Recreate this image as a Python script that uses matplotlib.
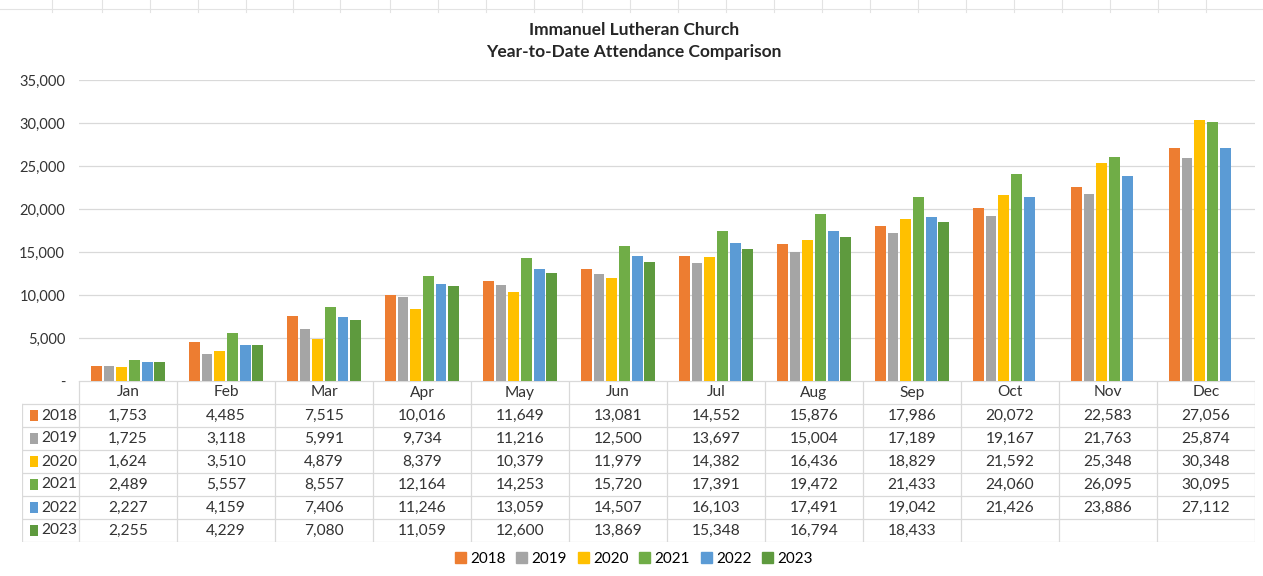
import numpy as np
import matplotlib.pyplot as plt
from matplotlib.patches import Patch, Rectangle

plt.rcParams['font.family'] = ['Lato', 'DejaVu Sans']

# data
months = ['Jan', 'Feb', 'Mar', 'Apr', 'May', 'Jun', 'Jul', 'Aug', 'Sep', 'Oct', 'Nov', 'Dec']
years = ['2018', '2019', '2020', '2021', '2022', '2023']
att_2018 = [1753, 4485, 7515, 10016, 11649, 13081, 14552, 15876, 17986, 20072, 22583, 27056]
att_2019 = [1725, 3118, 5991, 9734, 11216, 12500, 13697, 15004, 17189, 19167, 21763, 25874]
att_2020 = [1624, 3510, 4879, 8379, 10379, 11979, 14382, 16436, 18829, 21592, 25348, 30348]
att_2021 = [2489, 5557, 8557, 12164, 14253, 15720, 17391, 19472, 21433, 24060, 26095, 30095]
att_2022 = [2227, 4159, 7406, 11246, 13059, 14507, 16103, 17491, 19042, 21426, 23886, 27112]
att_2023 = [2255, 4229, 7080, 11059, 12600, 13869, 15348, 16794, 18433, None, None, None]
series = [att_2018, att_2019, att_2020, att_2021, att_2022, att_2023]
colors = ['#ED7D31', '#A5A5A5', '#FFC000', '#70AD47', '#5B9BD5', '#5E9A3E']

W, H = 1263, 576
fig = plt.figure(figsize=(W / 100, H / 100), dpi=100)

# main bar chart
ax = fig.add_axes([79 / W, (H - 381) / H, 1176 / W, 301 / H])
x = np.arange(len(months))
step, bw = 0.13, 0.11
for i, (vals, c) in enumerate(zip(series, colors)):
    v = np.array([np.nan if a is None else a for a in vals], dtype=float)
    ax.bar(x + (i - 2.5) * step, v, width=bw, color=c, zorder=3)

ax.set_xlim(-0.5, 11.5)
ax.set_ylim(0, 35000)
ax.set_yticks(range(0, 35001, 5000))
ax.set_yticklabels(['-' if t == 0 else f'{t:,}' for t in range(0, 35001, 5000)])
ax.tick_params(axis='y', length=0, pad=10, labelsize=10.5, colors='#333333')
ax.set_xticks([])
ax.grid(axis='y', color='#D9D9D9', linewidth=0.9, zorder=0)
for s in ax.spines.values():
    s.set_visible(False)

# data table under the chart
tax = fig.add_axes([22 / W, (H - 542) / H, (1255 - 22) / W, 161 / H])
hdr = 57 / 98
tax.set_xlim(-0.5 - hdr, 11.5)
tax.set_ylim(7, 0)
tax.axis('off')
lc = '#D9D9D9'
left = -0.5 - hdr
tax.plot([-0.5, 11.5], [0, 0], color=lc, lw=0.9)
for r in range(1, 8):
    tax.plot([left, 11.5], [r, r], color=lc, lw=0.9)
tax.plot([left, left], [1, 7], color=lc, lw=0.9)
for c in range(13):
    tax.plot([c - 0.5, c - 0.5], [0, 7], color=lc, lw=0.9)
fs = 11.2
for j, m in enumerate(months):
    tax.text(j, 0.5, m, ha='center', va='center', fontsize=fs, color='#333333')
for i, (yr, vals, col) in enumerate(zip(years, series, colors)):
    r = i + 1.5
    tax.add_patch(Rectangle((left + 0.085, r - 0.22), 0.08, 0.44, color=col, lw=0))
    tax.text(left + 0.2, r, yr, ha='left', va='center', fontsize=fs, color='#333333')
    for j, v in enumerate(vals):
        if v is not None:
            tax.text(j, r, f'{v:,}', ha='center', va='center', fontsize=fs, color='#333333')

# title
fig.text(0.502, 1 - 30 / H, 'Immanuel Lutheran Church', ha='center', va='center',
         fontsize=12.5, fontweight='bold', color='#262626')
fig.text(0.502, 1 - 52 / H, 'Year-to-Date Attendance Comparison', ha='center', va='center',
         fontsize=12.5, fontweight='bold', color='#262626')

# faint spreadsheet gridlines at the top
fig.add_artist(plt.Line2D([0, 1], [1 - 9 / H, 1 - 9 / H], color='#E3E3E3', lw=0.8))
for px in [52, 102, 150, 198, 246, 293, 340, 390, 438, 486, 534, 582, 630, 678, 726, 774, 822, 870, 918, 966, 1014, 1062, 1110, 1158, 1206]:
    fig.add_artist(plt.Line2D([px / W, px / W], [1, 1 - 12 / H], color='#E3E3E3', lw=0.8))

handles = [Patch(color=c, label=y) for c, y in zip(colors, years)]
fig.legend(handles=handles, loc='center', bbox_to_anchor=(0.502, 17 / H), ncol=6,
           frameon=False, fontsize=11, handlelength=0.7, handleheight=0.7,
           handletextpad=0.3, columnspacing=0.7)

fig.savefig('out.png', dpi=100, facecolor='white')
